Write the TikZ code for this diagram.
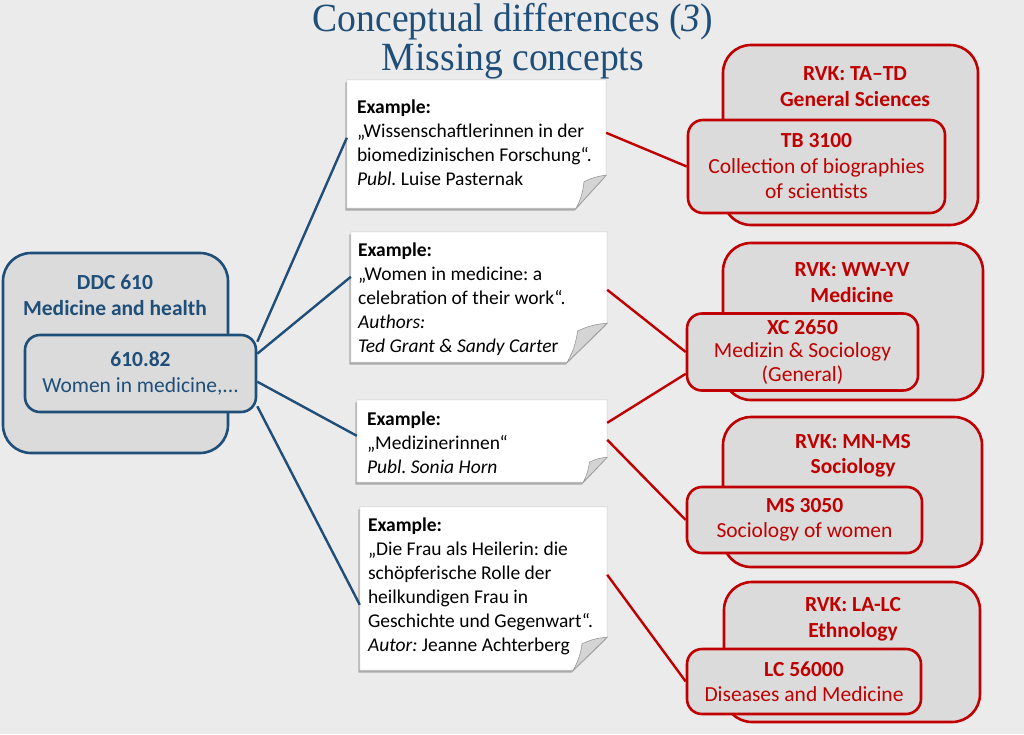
\documentclass[tikz,border=0pt]{standalone}
\usepackage{fontspec}
\setmainfont{Carlito}
\newfontfamily\TitleFace[FakeStretch=0.94]{Liberation Serif}
\usetikzlibrary{calc,shadows}
\definecolor{bgc}{HTML}{EBEBEB}
\definecolor{boxfill}{HTML}{DBDBDB}
\definecolor{ddcblue}{HTML}{1F4E79}
\definecolor{rvkred}{HTML}{C00000}
\definecolor{titleblue}{HTML}{1F4E79}
\definecolor{foldgray}{HTML}{D4D4D4}
\pgfdeclarelayer{back}
\pgfdeclarelayer{paperlayer}
\pgfsetlayers{back,paperlayer,main}
\frenchspacing
\newcommand\notefont{\fontsize{19.5}{24}\selectfont}
\newcommand\boxfont{\fontsize{21.5}{25.5}\selectfont}
\newcommand\drawnote[3]{%
  \begin{pgfonlayer}{paperlayer}
  \path[notepaper] (#1.north west) -- (#1.north east) -- ($(#1.south east)+(0,-#3)$) -- ($(#1.south east)+(-#2,0)$) -- (#1.south west) -- cycle;
  \path[foldpiece] ($(#1.south east)+(0,-#3)$) to[bend right=10] ($(#1.south east)+(-0.74*#2,-0.8*#3)$) to[bend left=10] ($(#1.south east)+(-#2,0)$) -- cycle;
  \end{pgfonlayer}}
\begin{document}
\begin{tikzpicture}[x=1pt,y=-1pt,
  box/.style={line width=2.6pt, fill=boxfill, inner sep=0pt, align=center, font=\boxfont},
  outerbox/.style={box, rounded corners=28pt},
  innerbox/.style={box, rounded corners=15pt},
  ddcstyle/.style={draw=ddcblue, text=ddcblue},
  rvkstyle/.style={draw=rvkred, text=rvkred},
  headtext/.style={font=\boxfont\bfseries, align=center, inner sep=0pt},
  notebox/.style={inner sep=0pt},
  notetext/.style={font=\notefont, align=left, inner sep=0pt, anchor=west, text=black},
  notepaper/.style={fill=white, draw=black!20, line width=0.5pt, drop shadow={shadow xshift=-1.5pt, shadow yshift=-2.5pt, opacity=0.4, fill=black!70}},
  foldpiece/.style={fill=foldgray, draw=black!40, line width=0.6pt},
  ddcline/.style={draw=ddcblue, line width=2.4pt},
  rvkline/.style={draw=rvkred, line width=2.4pt},
  titletext/.style={font=\TitleFace\fontsize{40}{39}\selectfont, text=titleblue, align=center, inner sep=0pt}]
\begin{pgfonlayer}{back}
\fill[bgc] (0,0) rectangle (1024,734);
\end{pgfonlayer}
\useasboundingbox (0,0) rectangle (1024,734);

% title
\node[titletext] (title) at (513,41.5) {Conceptual differences (\textit{3})\\Missing concepts};

% DDC
\node[outerbox, ddcstyle, minimum width=225pt, minimum height=200pt] (ddc) at (115.5,353) {};
\node[headtext, text=ddcblue] (ddct) at (115,295) {DDC 610\\Medicine and health};
\node[innerbox, ddcstyle, minimum width=231pt, minimum height=77pt] (ddcin) at (140.5,373.5) {\textbf{610.82}\\Women in medicine,...};

% RVK boxes
\node[outerbox, rvkstyle, minimum width=255pt, minimum height=180pt] (rvk1) at (850.5,135) {};
\node[headtext, text=rvkred] (rvk1t) at (855,86.5) {RVK: TA–TD\\General Sciences};
\node[innerbox, rvkstyle, minimum width=257pt, minimum height=93pt] (in1) at (816.5,166.5) {\textbf{TB 3100}\\Collection of biographies\\of scientists};

\node[outerbox, rvkstyle, minimum width=260pt, minimum height=157pt] (rvk2) at (853,321.5) {};
\node[headtext, text=rvkred] (rvk2t) at (852,282.5) {RVK: WW-YV\\Medicine};
\node[innerbox, rvkstyle, minimum width=231pt, minimum height=77pt, font=\fontsize{21.5}{23.5}\selectfont] (in2) at (802.5,352) {\textbf{XC 2650}\\Medizin \& Sociology\\(General)};

\node[outerbox, rvkstyle, minimum width=259pt, minimum height=150pt] (rvk3) at (852.5,492) {};
\node[headtext, text=rvkred] (rvk3t) at (853,456) {RVK: MN-MS\\Sociology};
\node[innerbox, rvkstyle, minimum width=235pt, minimum height=66pt] (in3) at (804.5,520) {\textbf{MS 3050}\\Sociology of women};

\node[outerbox, rvkstyle, minimum width=256pt, minimum height=140pt] (rvk4) at (852,652) {};
\node[headtext, text=rvkred] (rvk4t) at (853,619.5) {RVK: LA-LC\\Ethnology};
\node[innerbox, rvkstyle, minimum width=234pt, minimum height=65pt] (in4) at (804,681.5) {\textbf{LC 56000}\\Diseases and Medicine};

% notes
\node[notebox, minimum width=259pt, minimum height=128pt] (n1) at (476.5,144) {};
\node[notetext] (n1t) at ($(n1.west)+(10,-1)$) {\textbf{Example:}\\„Wissenschaftlerinnen in der\\biomedizinischen Forschung“.\\\textit{Publ.} Luise Pasternak};
\drawnote{n1}{30}{33}

\node[notebox, minimum width=256pt, minimum height=130pt] (n2) at (479,297) {};
\node[notetext] (n2t) at ($(n2.west)+(7,2)$) {\textbf{Example:}\\„Women in medicine: a\\celebration of their work“.\\\textit{Authors:}\\\textit{Ted Grant \& Sandy Carte}r};
\drawnote{n2}{40}{39}

\node[notebox, minimum width=250pt, minimum height=82pt] (n3) at (482,441) {};
\node[notetext] (n3t) at ($(n3.west)+(10,2)$) {\textbf{Example:}\\„Medizinerinnen“\\\textit{Publ. Sonia Horn}};
\drawnote{n3}{24}{25}

\node[notebox, minimum width=247pt, minimum height=163pt] (n4) at (483.5,588.5) {};
\node[notetext] (n4t) at ($(n4.west)+(8,-2)$) {\textbf{Example:}\\„Die Frau als Heilerin: die\\schöpferische Rolle der\\heilkundigen Frau in\\Geschichte und Gegenwart“.\\\textit{Autor:} Jeanne Achterberg};
\drawnote{n4}{34}{33}

% blue connectors
\draw[ddcline] ($(ddcin.north east)+(0,8)$) -- ($(n1.north west)+(0,58)$);
\draw[ddcline] ($(ddcin.north east)+(0,20)$) -- ($(n2.north west)+(0,45)$);
\draw[ddcline] ($(ddcin.north east)+(0,48)$) -- ($(n3.north west)+(0,36)$);
\draw[ddcline] ($(ddcin.south east)+(0,-7)$) -- ($(n4.north west)+(0,98)$);

% red connectors
\draw[rvkline] ($(n1.north east)+(0,53)$) -- (in1.west);
\draw[rvkline] ($(n2.north east)+(0,58)$) -- (in2.west);
\draw[rvkline] ($(n3.north east)+(0,23)$) -- ($(in2.south west)+(0,-18)$);
\draw[rvkline] ($(n3.north east)+(0,40)$) -- (in3.west);
\draw[rvkline] ($(n4.north east)+(0,68)$) -- (in4.west);
\end{tikzpicture}
\end{document}
